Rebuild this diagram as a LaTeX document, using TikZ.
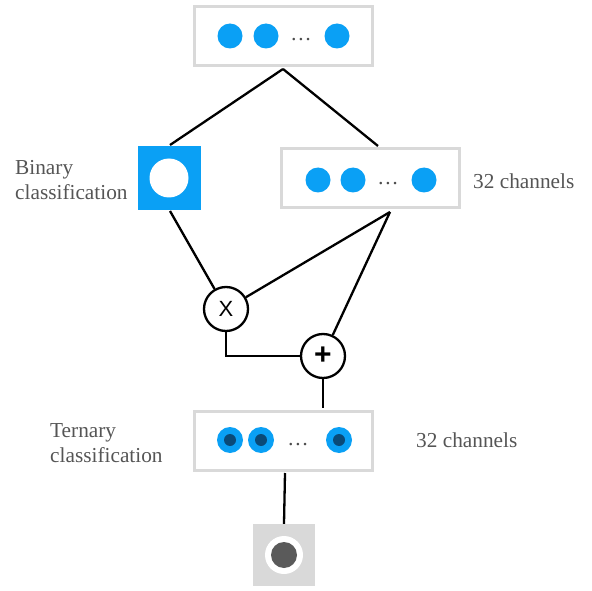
\documentclass[tikz,border=0pt]{standalone}
\usepackage{fontspec}
\setmainfont{Liberation Serif}
\newfontfamily\opfont{Liberation Sans}
\definecolor{cblue}{HTML}{0AA0F5}
\definecolor{cnavy}{HTML}{0A4A78}
\definecolor{boxgray}{HTML}{D9D9D9}
\definecolor{txtgray}{HTML}{555555}
\definecolor{dgray}{HTML}{5A5A5A}
\begin{document}
\begin{tikzpicture}[x=1pt,y=-1pt,
  chbox/.style={draw=boxgray,line width=3pt,fill=white,minimum width=178pt,minimum height=59pt,inner sep=0pt},
  dotc/.style={circle,fill=cblue,inner sep=0pt,minimum size=25pt},
  tdot/.style={circle,fill=cblue,inner sep=0pt,minimum size=26pt,path picture={\fill[cnavy] (path picture bounding box.center) circle (6pt);}},
  opc/.style={circle,draw=black,line width=2.3pt,fill=white,minimum size=44pt,inner sep=0pt,font=\opfont\fontsize{22}{22}\selectfont},
  lab/.style={text=txtgray,font=\fontsize{21.3}{25}\selectfont,align=left,inner sep=0pt},
  conn/.style={draw=black,line width=2.3pt}]
\useasboundingbox (0,0) rectangle (592,591);
% top box
\node[chbox] (top) at (283,36) {};
\node[dotc] (t1) at (230,36) {};
\node[dotc] (t2) at (266,36) {};
\node[dotc] (t3) at (337,36) {};
\node[lab,text=black!70] (td) at (301,40) {\ldots};
% binary square
\node[fill=cblue,minimum size=63pt,inner sep=0pt] (bin) at (169,178) {};
\node[circle,fill=white,minimum size=39pt,inner sep=0pt] (binc) at (169,178) {};
\node[lab,anchor=west] (binlab) at (15,180) {Binary\\classification};
% middle box
\node[chbox] (mid) at (370,178) {};
\node[dotc] (m1) at (318,180) {};
\node[dotc] (m2) at (353,180) {};
\node[dotc] (m3) at (424,180) {};
\node[lab,text=black!70] (md) at (388,184) {\ldots};
\node[lab,anchor=west] (mlab) at (473,181) {32 channels};
% ops
\node[opc] (mul) at (226,309) {X};
\node[opc,font=\opfont\bfseries\fontsize{30}{30}\selectfont] (add) at (323,356) {\raisebox{1.5pt}{+}};
% ternary box
\node[chbox] (ter) at (283,441) {};
\node[tdot] (r1) at (230,440) {};
\node[tdot] (r2) at (261,440) {};
\node[tdot] (r3) at (339,440) {};
\node[lab,text=black!70] (rd) at (298,445) {\ldots};
\node[lab,anchor=west] (rlab) at (50,443) {Ternary\\classification};
\node[lab,anchor=west] (rlab2) at (416,440) {32 channels};
% bottom output
\node[fill=boxgray,minimum size=62pt,inner sep=0pt] (out) at (284,555) {};
\node[circle,fill=white,minimum size=38pt,inner sep=0pt] (outw) at (284,555) {};
\node[circle,fill=dgray,minimum size=26pt,inner sep=0pt] (outc) at (284,555) {};
% connectors
\coordinate (tb) at (283,69);
\coordinate (mb) at (390,212);
\coordinate (corner) at (226,356);
\draw[conn] (tb) -- (170,145);
\draw[conn] (tb) -- (378,146);
\draw[conn] (170,211) -- (mul);
\draw[conn] (mb) -- (mul);
\draw[conn] (mb) -- (add);
\draw[conn] (mul.south) -- (corner) -- (add.west);
\draw[conn] (add.south) -- (323,408);
\draw[conn] (285,473) -- (out.north);
\end{tikzpicture}
\end{document}
